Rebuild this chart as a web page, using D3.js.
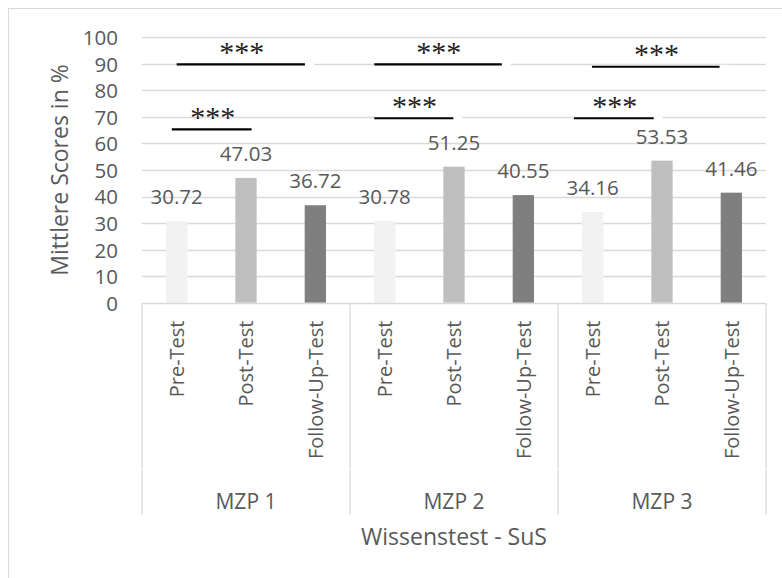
<!DOCTYPE html>
<html>
<head>
<meta charset="utf-8">
<script src="https://cdn.jsdelivr.net/npm/d3@7/dist/d3.min.js"></script>
<style>
  html, body { margin: 0; padding: 0; background: #fff; }
  svg { display: block; }
  text { font-family: "Open Sans", "Noto Sans", sans-serif; fill: #595959; }
</style>
</head>
<body>
<svg id="chart" width="782" height="578"></svg>
<script>
// ---- data ----
const groups = ["MZP 1", "MZP 2", "MZP 3"];
const tests = ["Pre-Test", "Post-Test", "Follow-Up-Test"];
const preValues = [30.72, 30.78, 34.16];
const postValues = [47.03, 51.25, 53.53];
const followValues = [36.72, 40.55, 41.46];
const yTicks = [0, 10, 20, 30, 40, 50, 60, 70, 80, 90, 100];
const yTitle = "Mittlere Scores in %";
const xTitle = "Wissenstest - SuS";

// significance annotations (group index, level on y scale, start/end in bar steps from first bar)
const sigGroup = [0, 0, 1, 1, 2, 2];
const sigLevel = [65.3, 89.8, 89.8, 69.5, 88.9, 69.5];
const sigFrom = [-0.07, 0.0, -0.15, -0.15, -0.01, -0.27];
const sigTo = [1.08, 1.85, 1.69, 0.99, 1.83, 0.88];
const sigLabelAt = [0.52, 0.94, 0.78, 0.43, 0.92, 0.32];
const sigLabel = ["***", "***", "***", "***", "***", "***"];

const colors = ["#f2f2f2", "#bfbfbf", "#7f7f7f"];
const seriesValues = [preValues, postValues, followValues];

// ---- layout ----
const svg = d3.select("#chart");
const plotLeft = 142, plotRight = 766, plotTop = 37.3, plotBottom = 302.7;

const y = d3.scaleLinear().domain([0, 100]).range([plotBottom, plotTop]);
const xGroup = d3.scaleBand().domain(groups).range([plotLeft, plotRight]).padding(0);
const xTest = d3.scaleBand().domain(tests).range([0, xGroup.bandwidth()])
  .paddingInner(0.693).paddingOuter(0.3465);
const step = xTest.step();

// outer chart border
svg.append("rect").attr("x", 8.5).attr("y", 8.5).attr("width", 820).attr("height", 620)
  .attr("fill", "none").attr("stroke", "#d9d9d9").attr("stroke-width", 1);

// gridlines
svg.append("g").selectAll("line").data(yTicks.filter(d => d > 0)).join("line")
  .attr("x1", plotLeft).attr("x2", plotRight)
  .attr("y1", d => Math.round(y(d)) + 0.5).attr("y2", d => Math.round(y(d)) + 0.5)
  .attr("stroke", "#d9d9d9").attr("stroke-width", 1.3);

// y axis labels
const yAxis = d3.axisLeft(y).tickValues(yTicks).tickSize(0).tickPadding(0);
const yg = svg.append("g").attr("transform", `translate(118,0)`).call(yAxis);
yg.select(".domain").remove();
yg.selectAll("text").attr("font-size", 20.5).attr("fill", "#595959")
  .style("font-family", '"Open Sans", sans-serif').attr("dy", "0.36em");

// bars
const barData = [];
groups.forEach((g, gi) => tests.forEach((t, ti) => barData.push({ g, t, v: seriesValues[ti][gi], ti })));
const gb = svg.append("g");
gb.selectAll("rect").data(barData).join("rect")
  .attr("x", d => xGroup(d.g) + xTest(d.t))
  .attr("y", d => y(d.v))
  .attr("width", xTest.bandwidth())
  .attr("height", d => y(0) - y(d.v))
  .attr("fill", d => colors[d.ti]);

// data labels
gb.selectAll("text").data(barData).join("text")
  .attr("x", d => xGroup(d.g) + xTest(d.t) + xTest.bandwidth() / 2)
  .attr("y", d => y(d.v) - 17)
  .attr("text-anchor", "middle").attr("font-size", 20.5)
  .text(d => d.v.toFixed(2));

// category axis frame
const axisY = 303.5;
const frame = svg.append("g").attr("stroke", "#d9d9d9").attr("stroke-width", 1.3);
frame.append("line").attr("x1", plotLeft).attr("x2", plotRight).attr("y1", axisY).attr("y2", axisY);
const dividers = [plotLeft].concat(groups.map(g => xGroup(g) + xGroup.bandwidth()));
dividers.forEach(xv => {
  frame.append("line").attr("x1", xv).attr("x2", xv).attr("y1", axisY).attr("y2", 468.5);
  frame.append("line").attr("x1", xv).attr("x2", xv).attr("y1", 470).attr("y2", 515);
});

// category labels (rotated)
svg.append("g").selectAll("text").data(barData).join("text")
  .attr("transform", d => `translate(${xGroup(d.g) + xTest(d.t) + xTest.bandwidth() / 2},320.5) rotate(-90)`)
  .attr("text-anchor", "end").attr("dy", "0.36em").attr("font-size", 20)
  .text(d => d.t);

// group labels
svg.append("g").selectAll("text").data(groups).join("text")
  .attr("x", g => xGroup(g) + xGroup.bandwidth() / 2).attr("y", 508.5)
  .attr("text-anchor", "middle").attr("font-size", 21).text(g => g);

// axis titles
svg.append("text").attr("x", (plotLeft + plotRight) / 2).attr("y", 545)
  .attr("text-anchor", "middle").attr("font-size", 23).text(xTitle);
svg.append("text").attr("transform", `translate(68,${(plotTop + plotBottom) / 2}) rotate(-90)`)
  .attr("text-anchor", "middle").attr("font-size", 23).text(yTitle);

// significance annotations
const firstCenter = gi => xGroup(groups[gi]) + xTest(tests[0]) + xTest.bandwidth() / 2;
const sig = svg.append("g");
sigGroup.forEach((gi, i) => {
  const x1 = firstCenter(gi) + sigFrom[i] * step;
  const x2 = firstCenter(gi) + sigTo[i] * step;
  const ly = y(sigLevel[i]);
  sig.append("line").attr("x1", x1).attr("x2", x2 + 9).attr("y1", ly).attr("y2", ly)
    .attr("stroke", "#ffffff").attr("stroke-width", 4);
  sig.append("line").attr("x1", x1).attr("x2", x2).attr("y1", ly).attr("y2", ly)
    .attr("stroke", "#000000").attr("stroke-width", 2.2);
  sig.append("text").attr("x", firstCenter(gi) + sigLabelAt[i] * step).attr("y", ly - 2.5)
    .attr("text-anchor", "middle").attr("font-size", 30)
    .style("font-family", '"Liberation Serif", "Times New Roman", serif').style("fill", "#222")
    .text(sigLabel[i]);
});
</script>
</body>
</html>
